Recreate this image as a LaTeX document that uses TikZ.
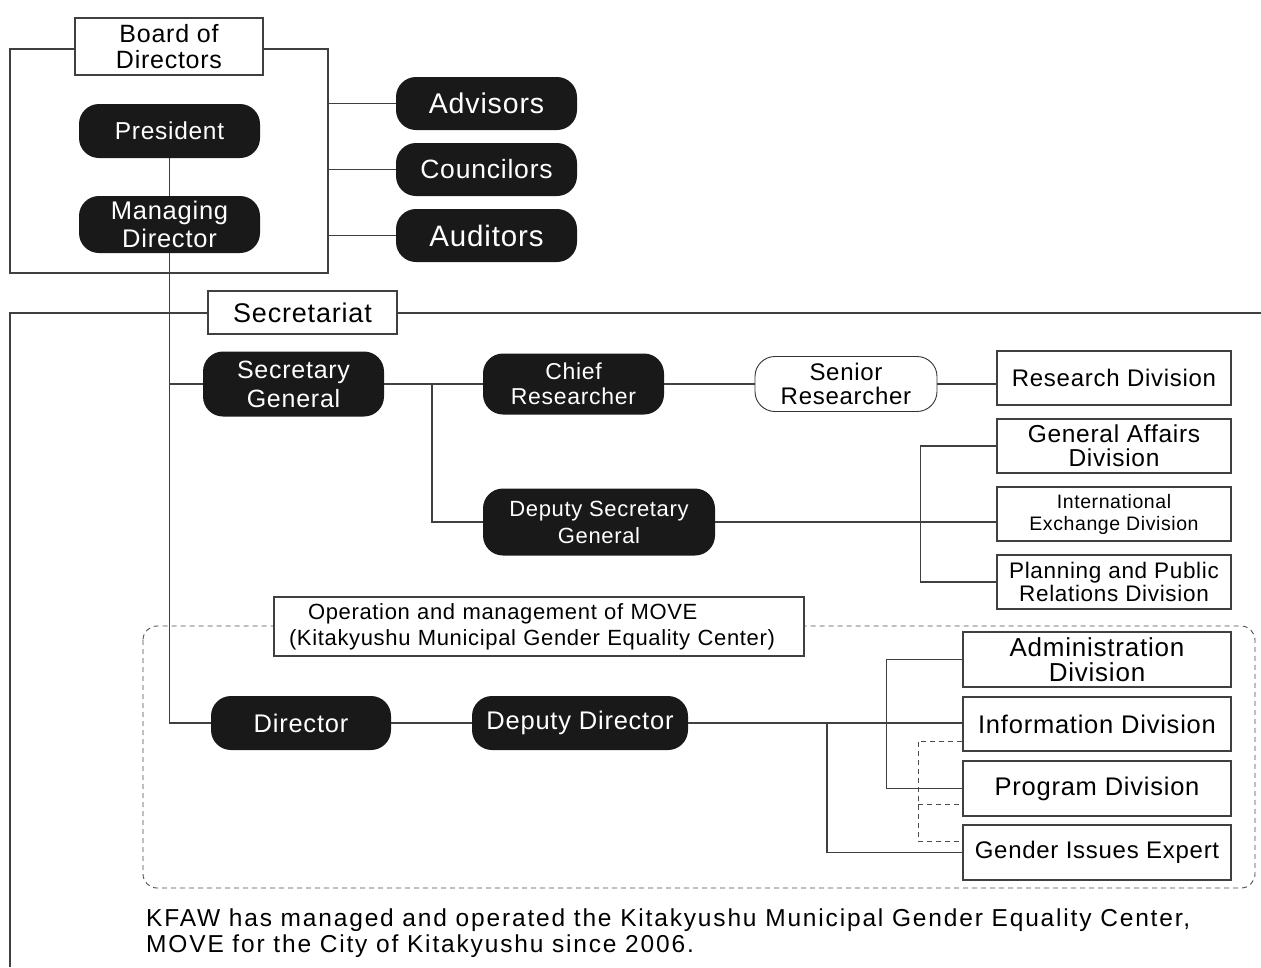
\documentclass[tikz,border=0pt]{standalone}
\usepackage{fontspec}
\setmainfont{Liberation Sans}[LetterSpace=3]
\newfontfamily\notefont{Liberation Sans}[LetterSpace=7.5]
\newcommand\fsz[2]{\fontsize{#1}{#2}\selectfont}
\begin{document}
\begin{tikzpicture}[x=1pt,y=-1pt,
  conn/.style={draw=black!75, line width=1.1pt},
  dconn/.style={draw=black!70, line width=0.9pt, dash pattern=on 5pt off 4pt},
  pill/.style={fill=black!90, text=white, rounded corners=20pt, align=center, inner sep=0pt},
  wpill/.style={draw=black!80, line width=0.9pt, fill=white, rounded corners=20pt, align=center, inner sep=0pt},
  box/.style={draw=black!75, line width=1.1pt, fill=white, align=center, inner sep=0pt},
  sz/.style 2 args={minimum width=#1pt, minimum height=#2pt}]
\useasboundingbox (0,0) rectangle (1261,967);

% frames and background lines
\draw[conn] (10,49) rectangle (328,273);
\draw[conn] (10,967) -- (10,313) -- (1261,313);
\draw[dconn, rounded corners=14pt] (143,626) rectangle (1255,888);

% nodes
\node[box, sz={188}{57}, font=\fsz{25}{26}] (bod) at (169,46.5) {Board of\\Directors};
\node[pill, sz={181}{54}, font=\fsz{24.5}{26}] (pres) at (169.5,131) {President};
\node[pill, sz={181}{57}, font=\fsz{25.5}{28}] (md) at (169.5,224.5) {Managing\\Director};
\node[pill, sz={181}{53}, font=\fsz{28.5}{28}] (adv) at (486.5,103.5) {Advisors};
\node[pill, sz={181}{53}, font=\fsz{26.5}{28}] (cou) at (486.5,169.5) {Councilors};
\node[pill, sz={181}{53}, font=\fsz{29.5}{28}] (aud) at (486.5,235.5) {Auditors};

\node[box, sz={189}{43}, font=\fsz{27}{26}] (sec) at (302.5,312.5) {Secretariat};
\node[pill, sz={181}{65}, font=\fsz{25}{29}] (sg) at (293.5,384) {Secretary\\General};
\node[pill, sz={181}{61}, font=\fsz{23}{25}] (cr) at (573.5,384) {Chief\\Researcher};
\node[wpill, sz={182}{55}, font=\fsz{24}{24}] (srr) at (846,384) {Senior\\Researcher};
\node[box, sz={234}{54}, font=\fsz{24}{24}] (rd) at (1114,378) {Research Division};
\node[box, sz={234}{54}, font=\fsz{24.5}{24}] (ga) at (1114,446) {General Affairs\\Division};
\node[box, sz={234}{54}, font=\fsz{19.5}{22}] (ie) at (1114,514) {International\\Exchange Division};
\node[box, sz={234}{54}, font=\fsz{22.5}{23}] (pp) at (1114,582) {Planning and Public\\Relations Division};
\node[pill, sz={232}{67}, font=\fsz{22}{27}] (dsg) at (599,522) {Deputy Secretary\\General};

\node[box, sz={530}{59}, font=\fsz{22}{26}, align=left, text width=500pt] (op) at (539,626.5)
  {\hspace*{19pt}Operation and management of MOVE\\(Kitakyushu Municipal Gender Equality Center)};
\node[pill, sz={180}{54}, font=\fsz{25.5}{26}] (dir) at (301,723) {Director};
\node[pill, sz={216}{54}, font=\fsz{25.5}{26}] (dd) at (580,723) {Deputy Director};
\node[box, sz={268}{55}, font=\fsz{26}{25}] (adm) at (1097,659.5) {Administration\\Division};
\node[box, sz={268}{54}, font=\fsz{25.5}{26}] (inf) at (1097,724) {Information Division};
\node[box, sz={268}{55}, font=\fsz{25.5}{26}] (prg) at (1097,788.5) {Program Division};
\node[box, sz={268}{55}, font=\fsz{24}{26}] (gie) at (1097,852.5) {Gender Issues Expert};

\node[anchor=west, align=left, inner sep=0pt, font=\notefont\fsz{24.5}{26}] (note) at (146,933)
  {KFAW has managed and operated the Kitakyushu Municipal Gender Equality Center,\\
   MOVE for the City of Kitakyushu since 2006.};

% connectors
\coordinate (fr) at (328,0);
\draw[conn] (adv.west -| fr) -- (adv.west);
\draw[conn] (cou.west -| fr) -- (cou.west);
\draw[conn] (aud.west -| fr) -- (aud.west);
\draw[conn] (pres) -- (md);
\draw[conn] (md.south) |- (dir.west);
\draw[conn] (md.south |- sg.west) -- (sg.west);
\draw[conn] (sg.east) -- (cr.west);
\coordinate (b1) at (432,384);
\draw[conn] (b1) |- (dsg.west);
\draw[conn] (cr.east) -- (srr.west);
\draw[conn] (srr.east) -- (srr.east -| rd.west);
\draw[conn] (dsg.east) -- (dsg.east -| ie.west);
\draw[conn] (ga.west) -- ++(-76,0) |- (pp.west);
\draw[conn] (dir.east) -- (dd.west);
\draw[conn] (dd.east) -- (dd.east -| inf.west);
\coordinate (b2) at (827,723);
\draw[conn] (b2) |- (gie.west);
\draw[conn] (adm.west) -- ++(-76,0) |- (prg.west);
\draw[dconn] (inf.west |- 0,741) -- (918,741) -- (918,841) -- (gie.west |- 0,841);
\draw[dconn] (918,804) -- (prg.west |- 0,804);
\end{tikzpicture}
\end{document}
